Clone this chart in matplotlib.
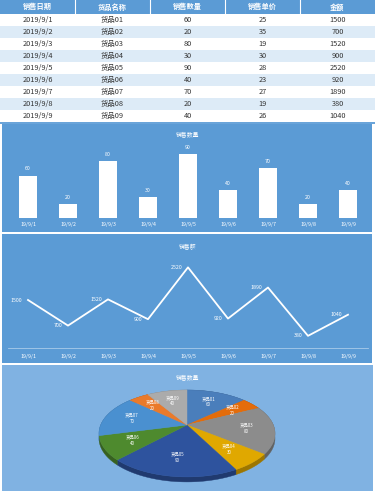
import numpy as np
import matplotlib.pyplot as plt
from matplotlib.patches import Rectangle, Polygon
from matplotlib.colors import to_rgb

plt.rcParams['font.family'] = ['Noto Sans CJK SC', 'DejaVu Sans']

# 数据
headers = ['销售日期', '货品名称', '销售数量', '销售单价', '金额']
dates = ['2019/9/1', '2019/9/2', '2019/9/3', '2019/9/4', '2019/9/5',
         '2019/9/6', '2019/9/7', '2019/9/8', '2019/9/9']
goods = ['货品01', '货品02', '货品03', '货品04', '货品05',
         '货品06', '货品07', '货品08', '货品09']
qty = [60, 20, 80, 30, 90, 40, 70, 20, 40]
price = [25, 35, 19, 30, 28, 23, 27, 19, 26]
amount = [1500, 700, 1520, 900, 2520, 920, 1890, 380, 1040]
short_dates = ['19/9/1', '19/9/2', '19/9/3', '19/9/4', '19/9/5',
               '19/9/6', '19/9/7', '19/9/8', '19/9/9']
pie_colors = ['#4a7ebb', '#e46c0a', '#8c8c8c', '#e0a800', '#2e539e',
              '#4e8a2e', '#4a90d0', '#ea7a2a', '#ababab']

W, H = 375, 500
BLUE = '#5b9bd5'
fig = plt.figure(figsize=(W / 100, H / 100), dpi=100)


def px_axes(x0, y0, x1, y1):
    return fig.add_axes([x0 / W, 1 - y1 / H, (x1 - x0) / W, (y1 - y0) / H])


bg = px_axes(0, 0, W, H)
bg.set_xlim(0, W)
bg.set_ylim(H, 0)
bg.axis('off')

# ---- 表格 ----
col_w = 75
head_h = 13.5
row_h = 12.1
bg.add_patch(Rectangle((0, 0), W, head_h, color=BLUE, lw=0))
for j in range(1, 5):
    bg.plot([j * col_w, j * col_w], [0, head_h], color='white', lw=0.8)
for j, h in enumerate(headers):
    bg.text(j * col_w + col_w / 2, head_h / 2, h, color='white', fontsize=5.2,
            fontweight='bold', ha='center', va='center')
for i in range(len(dates)):
    y0 = head_h + i * row_h
    if i % 2 == 1:
        bg.add_patch(Rectangle((0, y0), W, row_h, color='#ddebf7', lw=0))
    vals = [dates[i], goods[i], qty[i], price[i], amount[i]]
    for j, v in enumerate(vals):
        bg.text(j * col_w + col_w / 2, y0 + row_h / 2, str(v), color='#333333',
                fontsize=5.3, ha='center', va='center')
bg.plot([0, W], [head_h + 9 * row_h + 0.6] * 2, color=BLUE, lw=1.3)

# ---- 面板 ----
bg.add_patch(Rectangle((2, 124), 370, 108, color=BLUE, lw=0))
bg.add_patch(Rectangle((2, 234), 370, 129, color=BLUE, lw=0))
bg.add_patch(Rectangle((2, 365), 371, 126, color='#80b2e2', lw=0))
bg.text(188, 134, '销售数量', color='white', fontsize=4.2, ha='center', va='center')
bg.text(188, 247, '销售额', color='white', fontsize=4.2, ha='center', va='center')
bg.text(188, 377, '销售数量', color='white', fontsize=4.2, ha='center', va='center')

# ---- 柱状图 ----
x = np.arange(len(qty))
ax1 = px_axes(8, 147, 368, 218.3)
ax1.patch.set_alpha(0)
ax1.bar(x, qty, width=0.45, color='white')
for xi, q in zip(x, qty):
    ax1.annotate(str(q), (xi, q), xytext=(0, 3), textcoords='offset points',
                 ha='center', va='bottom', color='white', fontsize=3.8)
ax1.set_xlim(-0.5, 8.5)
ax1.set_ylim(0, 100)
ax1.set_xticks(x, short_dates)
ax1.set_yticks([])
ax1.tick_params(axis='x', length=0, pad=2.6, labelsize=3.8, labelcolor='white')
for s in ax1.spines.values():
    s.set_visible(False)

# ---- 折线图 ----
ax2 = px_axes(8, 252, 368, 348)
ax2.patch.set_alpha(0)
ax2.plot(x, amount, color='white', lw=1.3)
for xi, a in zip(x, amount):
    ax2.annotate(str(a), (xi, a), xytext=(-4, 0), textcoords='offset points',
                 ha='right', va='center', color='white', fontsize=3.8)
ax2.set_xlim(-0.5, 8.5)
ax2.set_ylim(0, 3000)
ax2.set_xticks(x, short_dates)
ax2.set_yticks([])
ax2.tick_params(axis='x', length=0, pad=4, labelsize=3.8, labelcolor='white')
for s in ['top', 'left', 'right']:
    ax2.spines[s].set_visible(False)
ax2.spines['bottom'].set_color('#a9cbea')
ax2.spines['bottom'].set_linewidth(0.6)

# ---- 3D 饼图 (透视) ----
cx, cy = 187, 425
pa, pb, pk = 86.3, 41.8, 0.195
depth = 5


def proj(u, v):
    w = 1 + pk * v
    return cx + pa * u / w, cy - pb * v / w


total = sum(qty)
angles = np.concatenate([[0], np.cumsum(qty) / total * 360])
sides, tops, labels = [], [], []
for i in range(len(qty)):
    th = np.radians(np.linspace(angles[i], angles[i + 1], 60))
    xs, ys = proj(np.sin(th), np.cos(th))
    arc = np.column_stack([xs, ys])
    band = np.vstack([arc, arc[::-1] + [0, depth]])
    side_col = tuple(c * 0.7 for c in to_rgb(pie_colors[i]))
    sides.append(Polygon(band, closed=True, fc=side_col, ec=side_col, lw=0.3))
    top = np.vstack([[proj(0, 0)], arc])
    tops.append(Polygon(top, closed=True, fc=pie_colors[i], ec=pie_colors[i], lw=0.3))
    mid = np.radians((angles[i] + angles[i + 1]) / 2)
    labels.append(proj(0.68 * np.sin(mid), 0.68 * np.cos(mid)))
for p in sides:
    bg.add_patch(p)
for p in tops:
    bg.add_patch(p)
for (lx, ly), g, q in zip(labels, goods, qty):
    bg.text(lx, ly, f'{g}\n{q}', color='white', fontsize=3.2, ha='center',
            va='center', linespacing=1.3)

fig.savefig('out.png', dpi=100)
